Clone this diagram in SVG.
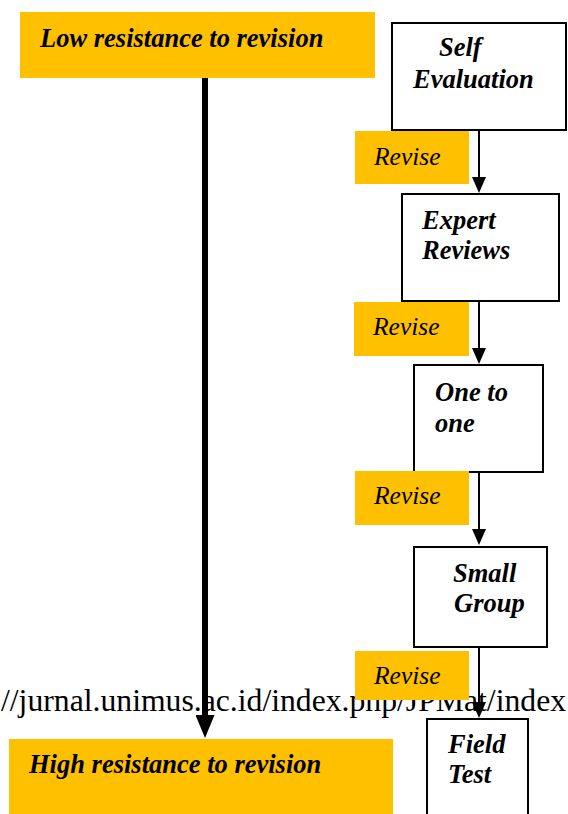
<svg xmlns="http://www.w3.org/2000/svg" width="568" height="814" viewBox="0 0 568 814">
<defs>
<style>
.band{fill:#FFC000;stroke:none}
.box{fill:#fff;stroke:#000;stroke-width:2}
.big{font-family:"Liberation Serif","Times New Roman",serif;font-size:26.5px;font-weight:bold;font-style:italic;fill:#000}
.rev{font-family:"Liberation Serif","Times New Roman",serif;font-size:25.5px;font-style:italic;fill:#000}
.url{font-family:"Liberation Serif","Times New Roman",serif;font-size:31.7px;fill:#000}
.thin{stroke:#000;stroke-width:2;fill:none}
.thick{stroke:#000;stroke-width:6;fill:none}
</style>
<marker id="ah" viewBox="0 0 16 14" markerWidth="16" markerHeight="14" refX="6" refY="7" orient="auto" markerUnits="userSpaceOnUse">
<path d="M0,0 L16,7 L0,14 z" fill="#000"/>
</marker>
<marker id="ahBig" viewBox="0 0 23 19" markerWidth="23" markerHeight="19" refX="8" refY="9.5" orient="auto" markerUnits="userSpaceOnUse">
<path d="M0,0 L23,9.5 L0,19 z" fill="#000"/>
</marker>
</defs>
<rect width="568" height="814" fill="#fff"/>
<text class="url" x="1" y="711">//jurnal.unimus.ac.id/index.php/JPMat/index</text>

<g id="low">
<rect class="band" x="20" y="12" width="355" height="66"/>
<text class="big" x="40" y="47">Low resistance to revision</text>
</g>
<g id="high">
<rect class="band" x="9" y="739" width="384" height="80"/>
<text class="big" x="29" y="773">High resistance to revision</text>
</g>

<g id="self">
<rect class="box" x="392" y="23" width="174" height="107"/>
<text class="big" x="439" y="56">Self</text>
<text class="big" x="413" y="88">Evaluation</text>
</g>
<g id="expert">
<rect class="box" x="402" y="194" width="157" height="107"/>
<text class="big" x="422" y="229">Expert</text>
<text class="big" x="422" y="259">Reviews</text>
</g>
<g id="onetoone">
<rect class="box" x="414" y="365" width="129" height="107"/>
<text class="big" x="435" y="401">One to</text>
<text class="big" x="435" y="432">one</text>
</g>
<g id="small">
<rect class="box" x="414" y="547" width="133" height="100"/>
<text class="big" x="453" y="582">Small</text>
<text class="big" x="454" y="612">Group</text>
</g>
<g id="field">
<rect class="box" x="427" y="719" width="101" height="110"/>
<text class="big" x="448" y="753">Field</text>
<text class="big" x="448" y="783">Test</text>
</g>

<g id="revise1">
<rect class="band" x="355" y="131" width="114" height="53"/>
<text class="rev" x="374" y="165">Revise</text>
</g>
<g id="revise2">
<rect class="band" x="354" y="302" width="115" height="54"/>
<text class="rev" x="373" y="335">Revise</text>
</g>
<g id="revise3">
<rect class="band" x="355" y="471" width="114" height="54"/>
<text class="rev" x="374" y="504">Revise</text>
</g>
<g id="revise4">
<rect class="band" x="355" y="651" width="114" height="49"/>
<text class="rev" x="374" y="684">Revise</text>
</g>

<g id="connectors">
<line class="thick" x1="205" y1="78" x2="205" y2="723" marker-end="url(#ahBig)"/>
<line class="thin" x1="479" y1="130" x2="479" y2="183" marker-end="url(#ah)"/>
<line class="thin" x1="479" y1="301" x2="479" y2="354" marker-end="url(#ah)"/>
<line class="thin" x1="479" y1="472" x2="479" y2="535" marker-end="url(#ah)"/>
<line class="thin" x1="479" y1="647" x2="479" y2="708" marker-end="url(#ah)"/>
</g>
</svg>
